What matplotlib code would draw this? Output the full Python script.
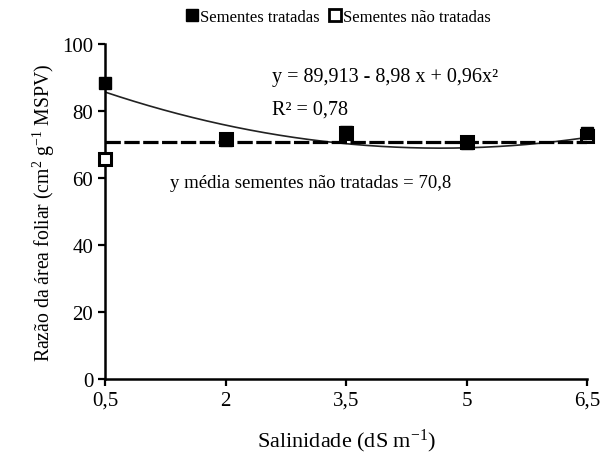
import numpy as np
import matplotlib
matplotlib.use("Agg")
import matplotlib.pyplot as plt
from matplotlib.lines import Line2D

plt.rcParams['font.family'] = ['Liberation Serif', 'DejaVu Serif']
plt.rcParams['mathtext.fontset'] = 'custom'
plt.rcParams['mathtext.rm'] = 'Liberation Serif'
plt.rcParams['mathtext.default'] = 'regular'

# salinity levels and leaf area ratio
salinidade = [0.5, 2.0, 3.5, 5.0, 6.5]
tick_labels = ["0,5", "2", "3,5", "5", "6,5"]
tratadas = [88.3, 71.3, 73.6, 70.3, 73.4]
nao_tratadas = [65.6, 71.5, 73.3, 70.8, 72.6]

# fitted quadratic for treated seeds (as printed), mean for untreated
coef_tratadas = [0.96, -8.98, 89.913]
media_nao_tratadas = 70.8

fig = plt.figure(figsize=(6.13, 4.56), dpi=100)
ax = fig.add_axes([0.1713, 0.1667, 0.7863, 0.7346])

xs = np.linspace(salinidade[0], salinidade[-1], 200)
ax.plot(xs, np.polyval(coef_tratadas, xs), color='#222222', lw=1.2, zorder=2)
ax.plot([salinidade[0], salinidade[-1]], [media_nao_tratadas] * 2,
        color='black', lw=2.3, ls=(0, (4.8, 1.1)), zorder=4)

ax.plot(salinidade, nao_tratadas, ls='none', marker='s', ms=8.5,
        mfc='white', mec='black', mew=2.2, clip_on=False, zorder=3)
ax.plot(salinidade, tratadas, ls='none', marker='s', ms=9,
        mfc='black', mec='black', clip_on=False, zorder=5)

ax.set_xlim(0.5, 6.5)
ax.set_ylim(0, 100)
ax.set_xticks(salinidade)
ax.set_xticklabels(tick_labels)
ax.set_yticks([0, 20, 40, 60, 80, 100])
ax.tick_params(labelsize=15, width=1.6, length=5, direction='out')
for s in ['top', 'right']:
    ax.spines[s].set_visible(False)
for s in ['left', 'bottom']:
    ax.spines[s].set_linewidth(1.8)

ax.set_xlabel("Salinidade (dS m$^{-1}$)", fontsize=16, labelpad=12)
ax.set_ylabel("Razão da área foliar (cm$^{2}$ g$^{-1}$ MSPV)", fontsize=14.2, labelpad=4)

ax.text(2.58, 90.4, "y = 89,913 - 8,98 x + 0,96x²", fontsize=14.5, va='center')
ax.text(2.58, 80.6, "R² = 0,78", fontsize=14.5, va='center')
ax.text(1.31, 58.8, "y média sementes não tratadas = 70,8", fontsize=13.5, va='center')

handles = [
    Line2D([], [], ls='none', marker='s', ms=9, mfc='black', mec='black'),
    Line2D([], [], ls='none', marker='s', ms=8, mfc='white', mec='black', mew=2),
]
fig.legend(handles, ["Sementes tratadas", "Sementes não tratadas"],
           loc='center', bbox_to_anchor=(0.552, 0.96), ncol=2, frameon=False,
           fontsize=12, handlelength=0.7, handletextpad=0.1, columnspacing=0.6)

fig.savefig("out.png", dpi=100)
